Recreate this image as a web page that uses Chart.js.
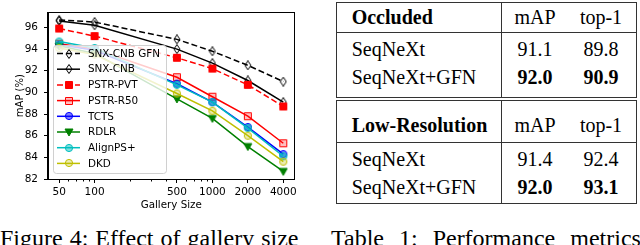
<!DOCTYPE html>
<html>
<head>
<meta charset="utf-8">
<script src="https://cdn.jsdelivr.net/npm/chart.js"></script>
<style>
  body { margin: 0; width: 640px; height: 245px; overflow: hidden; position: relative; background: #fff; }
  #c { position: absolute; left: 0; top: 0; }
  .t { position: absolute; font-family: 'Liberation Serif', 'Times New Roman', serif; font-size: 20px; line-height: 20px; white-space: nowrap; color: #000; }
  .b { font-weight: bold; }
  .ctr { width: 80px; text-align: center; }
  .hl { position: absolute; height: 1px; background: #333; }
  .vl { position: absolute; width: 1px; background: #333; }
  .cap { position: absolute; top: 228px; font-family: 'Liberation Serif', serif; font-size: 24px; line-height: 20px; white-space: nowrap; }
</style>
</head>
<body>
<canvas id="c" width="300" height="215"></canvas>
<div id="tbl"></div>
<div class="cap" style="left:0; word-spacing:1px">Figure 4: Effect of gallery size</div>
<div class="cap" style="left:331px; word-spacing:9px">Table 1: Performance metrics</div>
<script>
// gallery sizes and mAP (%) for each method
var gallerySizes = [50, 100, 500, 1000, 2000, 4000];
var methods = ['SNX-CNB GFN', 'SNX-CNB', 'PSTR-PVT', 'PSTR-R50', 'TCTS', 'RDLR', 'AlignPS+', 'DKD'];
var snxCnbGfn = [96.7, 96.5, 94.9, 93.8, 92.5, 91.0];
var snxCnb    = [96.6, 96.2, 94.0, 92.7, 91.1, 89.1];
var pstrPvt   = [95.9, 95.2, 93.2, 92.2, 90.7, 88.7];
var pstrR50   = [94.5, 94.0, 91.4, 89.6, 87.8, 85.3];
var tcts      = [94.4, 93.9, 90.8, 89.1, 86.8, 84.3];
var rdlr      = [94.3, 93.6, 89.4, 87.6, 85.0, 82.7];
var alignPs   = [94.7, 94.1, 90.7, 89.1, 86.7, 84.1];
var dkd       = [94.1, 93.5, 89.9, 88.3, 86.0, 83.6];
var yTicks = [82, 84, 86, 88, 90, 92, 94, 96];
var xTicks = [50, 100, 500, 1000, 2000, 4000];
var xMinorTicks = [60, 70, 80, 90, 200, 300, 400, 600, 700, 800, 900, 3000];

// table
var tableCols = ['mAP', 'top-1'];
var rowMethods = ['SeqNeXt', 'SeqNeXt+GFN'];
var occludedMap = ['91.1', '92.0'];
var occludedTop1 = ['89.8', '90.9'];
var lowResMap = ['91.4', '92.0'];
var lowResTop1 = ['92.4', '93.1'];

// marker images
function marker(shape, stroke, fill) {
  var w = shape === 'diamond' ? 8 : 10, h = 10;
  var c = document.createElement('canvas');
  c.width = w; c.height = h;
  var g = c.getContext('2d');
  g.lineWidth = 1; g.strokeStyle = stroke; g.fillStyle = fill;
  g.beginPath();
  if (shape === 'diamond') {
    g.moveTo(w / 2, 0.5); g.lineTo(w - 1, h / 2); g.lineTo(w / 2, h - 0.5); g.lineTo(1, h / 2); g.closePath();
  } else if (shape === 'square') {
    g.rect(1.5, 1.5, 7, 7);
  } else if (shape === 'circle') {
    g.arc(5, 5, 3.6, 0, Math.PI * 2);
  } else {
    g.moveTo(1, 2); g.lineTo(9, 2); g.lineTo(5, 9); g.closePath();
  }
  g.fill(); g.stroke();
  return c;
}

var seriesValues = [snxCnbGfn, snxCnb, pstrPvt, pstrR50, tcts, rdlr, alignPs, dkd];
var colors = ['#000000', '#000000', '#ff0000', '#ff0000', '#0000ff', '#008000', '#00bfbf', '#bfbf00'];
var dashes = [[6, 3], [], [6, 3], [], [], [], [], []];
var markers = [
  marker('diamond', '#000', 'rgba(0,0,0,0)'),
  marker('diamond', '#000', 'rgba(0,0,0,0)'),
  marker('square', '#ff0000', '#ff0000'),
  marker('square', '#ff0000', 'rgba(255,0,0,0.25)'),
  marker('circle', '#0000ff', 'rgba(0,0,255,0.5)'),
  marker('tri', '#008000', '#008000'),
  marker('circle', '#00bfbf', 'rgba(0,191,191,0.5)'),
  marker('circle', '#bfbf00', 'rgba(191,191,0,0.3)')
];

var datasets = methods.map(function(name, i) {
  return {
    label: name,
    data: gallerySizes.map(function(g, j) { return { x: g, y: seriesValues[i][j] }; }),
    borderColor: colors[i],
    backgroundColor: colors[i],
    borderWidth: 1.5,
    borderDash: dashes[i],
    pointStyle: markers[i],
    pointRadius: 4,
    order: methods.length - i
  };
});

// frame + minor ticks + legend inside the plot
var extras = {
  id: 'extras',
  afterDraw: function(chart) {
    var ctx = chart.ctx, a = chart.chartArea, xs = chart.scales.x;
    ctx.save();
    ctx.strokeStyle = '#000'; ctx.lineWidth = 1;
    ctx.strokeRect(Math.round(a.left) - 0.5, Math.round(a.top) + 0.5, Math.round(a.right - a.left), Math.round(a.bottom - a.top));
    ctx.beginPath();
    xMinorTicks.forEach(function(v) {
      var px = Math.round(xs.getPixelForValue(v)) + 0.5;
      ctx.moveTo(px, a.bottom); ctx.lineTo(px, a.bottom + 2.5);
    });
    ctx.stroke();

    var bx = 53.5, by = 45.5, bw = 113, bh = 128, r = 3;
    ctx.beginPath();
    ctx.moveTo(bx + r, by); ctx.lineTo(bx + bw - r, by); ctx.arcTo(bx + bw, by, bx + bw, by + r, r);
    ctx.lineTo(bx + bw, by + bh - r); ctx.arcTo(bx + bw, by + bh, bx + bw - r, by + bh, r);
    ctx.lineTo(bx + r, by + bh); ctx.arcTo(bx, by + bh, bx, by + bh - r, r);
    ctx.lineTo(bx, by + r); ctx.arcTo(bx, by, bx + r, by, r);
    ctx.closePath();
    ctx.fillStyle = 'rgba(255,255,255,0.8)'; ctx.fill();
    ctx.strokeStyle = '#d0d0d0'; ctx.stroke();

    chart.data.datasets.forEach(function(ds, i) {
      var cy = 53.5 + i * 15.7;
      ctx.strokeStyle = ds.borderColor; ctx.lineWidth = 1.5;
      ctx.setLineDash(ds.borderDash);
      ctx.beginPath(); ctx.moveTo(57, cy); ctx.lineTo(80, cy); ctx.stroke();
      ctx.setLineDash([]);
      var m = ds.pointStyle;
      ctx.drawImage(m, Math.round(68.5 - m.width / 2), Math.round(cy - m.height / 2));
      ctx.fillStyle = '#000'; ctx.font = '10.4px "DejaVu Sans"'; ctx.textBaseline = 'middle';
      ctx.fillText(ds.label, 88, cy + 0.5);
    });
    ctx.restore();
  }
};

Chart.defaults.font.family = '"DejaVu Sans", sans-serif';
Chart.defaults.color = '#000';

new Chart(document.getElementById('c'), {
  type: 'line',
  data: { datasets: datasets },
  options: {
    responsive: false,
    animation: false,
    devicePixelRatio: 1,
    layout: { padding: { top: 5, right: 5, left: 0, bottom: 0 } },
    plugins: { legend: { display: false }, tooltip: { enabled: false } },
    scales: {
      x: {
        type: 'logarithmic',
        min: 40.2,
        max: 4980,
        afterBuildTicks: function(s) { s.ticks = xTicks.map(function(v) { return { value: v }; }); },
        afterFit: function(s) { s.height = 36; },
        ticks: { autoSkip: false, maxRotation: 0, padding: 3, font: { size: 10.5 }, callback: function(v) { return String(v); } },
        grid: { drawOnChartArea: false, tickLength: 4, color: '#000' },
        border: { color: '#000' },
        title: { display: true, text: 'Gallery Size', font: { size: 10.3 }, padding: { top: 0, bottom: 3 } }
      },
      y: {
        min: 82,
        max: 97.4,
        afterBuildTicks: function(s) { s.ticks = yTicks.map(function(v) { return { value: v }; }); },
        afterFit: function(s) { s.width = 48; },
        ticks: { padding: 6, font: { size: 10.5 } },
        grid: { drawOnChartArea: false, tickLength: 4, color: '#000' },
        border: { color: '#000' },
        title: { display: true, text: 'mAP (%)', font: { size: 10 }, padding: { top: 14, bottom: 0 } }
      }
    }
  },
  plugins: [extras]
});

// table, drawn from the arrays above
var tbl = document.getElementById('tbl');
function put(cls, css, text) {
  var d = document.createElement('div');
  d.className = cls;
  d.style.cssText = css;
  if (text !== undefined) d.textContent = text;
  tbl.appendChild(d);
}
function text(str, x, baseline, bold, centered) {
  var left = centered ? x - 40 : x;
  put('t' + (bold ? ' b' : '') + (centered ? ' ctr' : ''), 'left:' + left + 'px;top:' + (baseline - 16.75) + 'px', str);
}
var tL = 336, tR = 636, tMid = 501, cMap = 535, cTop = 601;
function section(title, maps, tops, top, headBase, rowBase, rule, bottom) {
  put('hl', 'left:' + tL + 'px;width:' + (tR - tL + 1) + 'px;top:' + top + 'px');
  put('hl', 'left:' + tL + 'px;width:' + (tR - tL + 1) + 'px;top:' + rule + 'px');
  put('hl', 'left:' + tL + 'px;width:' + (tR - tL + 1) + 'px;top:' + bottom + 'px');
  [tL, tMid, tR].forEach(function(x) {
    put('vl', 'left:' + x + 'px;top:' + top + 'px;height:' + (bottom - top) + 'px');
  });
  text(title, 351.7, headBase, true, false);
  text(tableCols[0], cMap, headBase, false, true);
  text(tableCols[1], cTop, headBase, false, true);
  rowMethods.forEach(function(m, i) {
    var best = i === 1;
    text(m, 351.7, rowBase[i], false, false);
    text(maps[i], cMap, rowBase[i], best, true);
    text(tops[i], cTop, rowBase[i], best, true);
  });
}
section('Occluded', occludedMap, occludedTop1, 2, 23.3, [55.5, 83.3], 32, 97);
section('Low-Resolution', lowResMap, lowResTop1, 100, 131.7, [166, 194], 142, 203);
</script>
</body>
</html>
